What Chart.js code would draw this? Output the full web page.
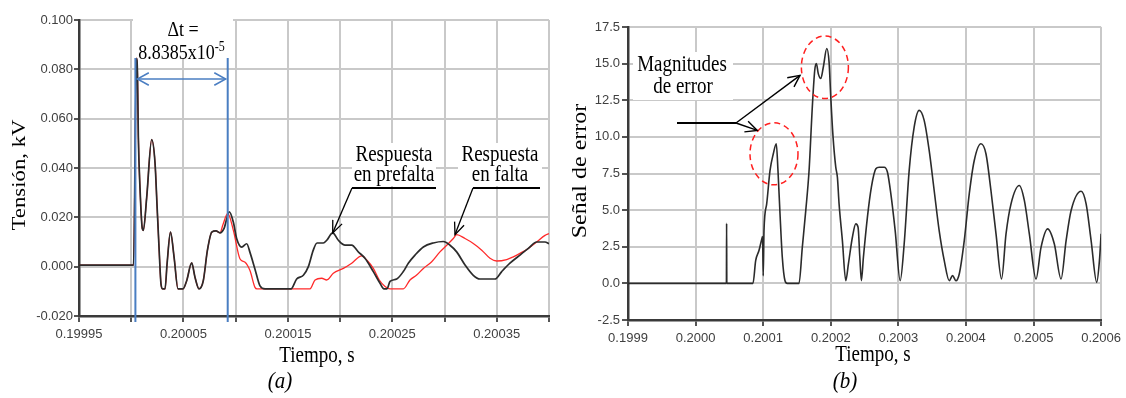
<!DOCTYPE html>
<html>
<head>
<meta charset="utf-8">
<script src="https://cdn.jsdelivr.net/npm/chart.js@4.4.1/dist/chart.umd.min.js"></script>
<style>
  html, body { margin: 0; padding: 0; background: #fff; }
  #wrap { position: relative; width: 1126px; height: 398px; overflow: hidden; }
  #wrap canvas { position: absolute; top: 0; }
  #cA { left: 0; }
  #cB { left: 560px; }
</style>
</head>
<body>
<div id="wrap">
  <canvas id="cA" width="560" height="398"></canvas>
  <canvas id="cB" width="566" height="398"></canvas>
</div>
<script>
// ---------- (a) voltage responses ----------
const timeA_prefalta = [
  0.1999500, 0.2000022, 0.2000050, 0.2000060, 0.2000068, 0.2000084, 0.2000106, 0.2000116,
  0.2000148, 0.2000196, 0.2000228, 0.2000247, 0.2000266, 0.2000285, 0.2000300, 0.2000324,
  0.2000343, 0.2000376, 0.2000410, 0.2000448, 0.2000496, 0.2000531, 0.2000579, 0.2000611,
  0.2000649, 0.2000690, 0.2000729, 0.2000771, 0.2000812, 0.2000850, 0.2000888, 0.2000939,
  0.2000978, 0.2001010, 0.2001058, 0.2001106, 0.2001137, 0.2001185, 0.2001233, 0.2001281,
  0.2001530, 0.2001584, 0.2001648, 0.2001696, 0.2001743, 0.2001779, 0.2001839, 0.2001872,
  0.2001929, 0.2001983, 0.2002047, 0.2002111, 0.2002174, 0.2002238, 0.2002318, 0.2002382,
  0.2002420, 0.2002449, 0.2002478, 0.2002542, 0.2002605, 0.2002653, 0.2002717, 0.2002797,
  0.2002892, 0.2002988, 0.2003052, 0.2003116, 0.2003196, 0.2003275, 0.2003339, 0.2003483,
  0.2003547, 0.2003626, 0.2003722, 0.2003802, 0.2003882, 0.2003962, 0.2004000
];
const kvA_prefalta = [
  0.0006, 0.0006, 0.0845, 0.0780, 0.0530, 0.0320, 0.0154, 0.0147,
  0.0280, 0.0515, 0.0420, 0.0250, 0.0080, -0.0070, -0.0090, -0.0090,
  0.0010, 0.0140, 0.0040, -0.0090, -0.0090, -0.0057, 0.0015, -0.0044,
  -0.0090, -0.0057, 0.0065, 0.0140, 0.0145, 0.0137, 0.0154, 0.0222,
  0.0180, 0.0113, 0.0079, 0.0093, 0.0058, -0.0010, -0.0078, -0.0090,
  -0.0090, -0.0050, -0.0035, 0.0000, 0.0067, 0.0096, 0.0096, 0.0107,
  0.0137, 0.0107, 0.0087, 0.0087, 0.0060, 0.0034, -0.0020, -0.0067,
  -0.0090, -0.0090, -0.0060, -0.0050, -0.0020, 0.0014, 0.0047, 0.0080,
  0.0096, 0.0102, 0.0087, 0.0060, 0.0007, -0.0035, -0.0050, -0.0050,
  -0.0020, 0.0014, 0.0047, 0.0074, 0.0100, 0.0100, 0.0093
];

const timeA_falta = [
  0.1999500, 0.2000022, 0.2000050, 0.2000060, 0.2000068, 0.2000084, 0.2000106, 0.2000116,
  0.2000148, 0.2000196, 0.2000228, 0.2000247, 0.2000266, 0.2000285, 0.2000300, 0.2000324,
  0.2000343, 0.2000376, 0.2000410, 0.2000448, 0.2000496, 0.2000531, 0.2000579, 0.2000611,
  0.2000649, 0.2000690, 0.2000729, 0.2000771, 0.2000812, 0.2000850, 0.2000878, 0.2000924,
  0.2000978, 0.2001042, 0.2001090, 0.2001137, 0.2001185, 0.2001204, 0.2001712, 0.2001760,
  0.2001824, 0.2001872, 0.2001935, 0.2002031, 0.2002111, 0.2002207, 0.2002255, 0.2002318,
  0.2002375, 0.2002430, 0.2002478, 0.2002605, 0.2002669, 0.2002733, 0.2002797, 0.2002877,
  0.2002956, 0.2003021, 0.2003084, 0.2003116, 0.2003196, 0.2003275, 0.2003356, 0.2003435,
  0.2003499, 0.2003595, 0.2003658, 0.2003722, 0.2003802, 0.2003882, 0.2003962, 0.2004000
];
const kvA_falta = [
  0.0006, 0.0006, 0.0845, 0.0780, 0.0530, 0.0320, 0.0154, 0.0147,
  0.0280, 0.0515, 0.0420, 0.0250, 0.0080, -0.0070, -0.0090, -0.0090,
  0.0010, 0.0140, 0.0040, -0.0090, -0.0090, -0.0057, 0.0015, -0.0044,
  -0.0090, -0.0057, 0.0065, 0.0140, 0.0145, 0.0137, 0.0170, 0.0216,
  0.0147, 0.0031, 0.0018, -0.0016, -0.0084, -0.0090, -0.0090, -0.0054,
  -0.0047, -0.0054, -0.0027, -0.0007, 0.0014, 0.0044, 0.0027, -0.0007,
  -0.0054, -0.0080, -0.0090, -0.0090, -0.0054, -0.0034, -0.0007, 0.0020,
  0.0060, 0.0087, 0.0114, 0.0130, 0.0114, 0.0094, 0.0067, 0.0034,
  0.0023, 0.0029, 0.0040, 0.0054, 0.0074, 0.0100, 0.0127, 0.0134
];

const xTicksA = [0.19995, 0.2, 0.20005, 0.2001, 0.20015, 0.2002, 0.20025, 0.2003, 0.20035, 0.2004];
const xTickLabelsA = ['0.19995', '', '0.20005', '', '0.20015', '', '0.20025', '', '0.20035', ''];
const yTicksA = [-0.02, 0, 0.02, 0.04, 0.06, 0.08, 0.1];
const yTickLabelsA = ['-0.020', '0.000', '0.020', '0.040', '0.060', '0.080', '0.100'];

// Two instants bracketing the travelling-wave interval
const deltaT = 8.8385e-5;
const tStart = 0.2000040;
const tEnd = tStart + deltaT;

// ---------- (b) error signal ----------
const timeB = [
  0.1999000, 0.2000456, 0.2000459, 0.2000462, 0.2000849, 0.2000889, 0.2000938, 0.2000978,
  0.2000991, 0.2001001, 0.2001012, 0.2001052, 0.2001101, 0.2001150, 0.2001194, 0.2001219,
  0.2001249, 0.2001283, 0.2001323, 0.2001357, 0.2001530, 0.2001579, 0.2001630, 0.2001679,
  0.2001727, 0.2001763, 0.2001787, 0.2001816, 0.2001852, 0.2001890, 0.2001941, 0.2001975,
  0.2002000, 0.2002034, 0.2002074, 0.2002098, 0.2002123, 0.2002172, 0.2002222, 0.2002261,
  0.2002320, 0.2002370, 0.2002404, 0.2002430, 0.2002453, 0.2002483, 0.2002542, 0.2002601,
  0.2002667, 0.2002716, 0.2002790, 0.2002839, 0.2002889, 0.2002953, 0.2003027, 0.2003086,
  0.2003160, 0.2003234, 0.2003308, 0.2003382, 0.2003456, 0.2003530, 0.2003604, 0.2003679,
  0.2003753, 0.2003802, 0.2003852, 0.2003901, 0.2003975, 0.2004049, 0.2004123, 0.2004222,
  0.2004296, 0.2004370, 0.2004445, 0.2004527, 0.2004593, 0.2004667, 0.2004790, 0.2004864,
  0.2004938, 0.2005037, 0.2005111, 0.2005209, 0.2005308, 0.2005407, 0.2005482, 0.2005556,
  0.2005704, 0.2005778, 0.2005852, 0.2005935, 0.2005975, 0.2006000
];
const errorB = [
  0, 0, 4.10, 0, 0, 1.55, 2.24, 3.00,
  3.20, 0.52, 3.60, 5.43, 7.70, 8.85, 9.53, 7.70,
  4.75, 1.78, 0.18, 0, 0, 2.46, 4.97, 7.70,
  12.04, 14.55, 15.00, 14.30, 13.98, 14.77, 16.03, 15.10,
  12.72, 9.98, 7.93, 7.25, 5.43, 2.92, 0.18, 1.33,
  3.15, 4.06, 3.83, 1.78, 0.18, 1.78, 4.51, 6.57,
  7.82, 7.93, 7.93, 7.59, 6.11, 3.60, 0.18, 2.69,
  7.70, 10.67, 11.81, 11.13, 9.08, 6.34, 3.60, 1.55,
  0.18, 0.53, 0.18, 0.64, 2.92, 6.11, 8.39, 9.53,
  8.85, 6.34, 3.38, 0.30, 3.38, 5.43, 6.68, 5.66,
  3.38, 0.30, 2.46, 3.72, 2.69, 0.30, 2.92, 4.97,
  6.29, 5.43, 2.92, 0.07, 1.55, 3.38
];

const xTicksB = [0.1999, 0.2, 0.2001, 0.2002, 0.2003, 0.2004, 0.2005, 0.2006];
const xTickLabelsB = ['0.1999', '0.2000', '0.2001', '0.2002', '0.2003', '0.2004', '0.2005', '0.2006'];
const yTicksB = [-2.5, 0, 2.5, 5, 7.5, 10, 12.5, 15, 17.5];
const yTickLabelsB = ['-2.5', '0.0', '2.5', '5.0', '7.5', '10.0', '12.5', '15.0', '17.5'];

// Peaks singled out as error magnitudes (centre of each dashed ring)
const ringTimes = [0.2001160, 0.2001913];
const ringValues = [8.84, 14.75];
// Where the two "Magnitudes de error" arrows land
const arrowTimesB = [0.2000913, 0.2001545];
const arrowValuesB = [10.44, 14.2];
// Where the response labels point in (a)
const arrowTimesA = [0.2001929, 0.2003100];
const arrowValuesA = [0.0137, 0.0130];

// ---------- shared helpers ----------
const SERIF = '"Liberation Serif", "Times New Roman", serif';
const SANS = '"Liberation Sans", Arial, sans-serif';
const STRETCH = 1.2;

function pairs(xs, ys) { return xs.map((x, i) => ({ x: x, y: ys[i] })); }

function text(ctx, str, x, y, size, align, opts) {
  opts = opts || {};
  ctx.save();
  ctx.font = (opts.italic ? 'italic ' : '') + size + 'px ' + SERIF;
  ctx.fillStyle = opts.color || '#000';
  ctx.textAlign = align || 'center';
  ctx.textBaseline = 'alphabetic';
  ctx.translate(x, y);
  ctx.scale(1, opts.stretch || STRETCH);
  ctx.fillText(str, 0, 0);
  ctx.restore();
}

function vText(ctx, str, x, y, size) {
  ctx.save();
  ctx.font = size + 'px ' + SERIF;
  ctx.fillStyle = '#000';
  ctx.textAlign = 'center';
  ctx.textBaseline = 'middle';
  ctx.translate(x, y);
  ctx.rotate(-Math.PI / 2);
  ctx.scale(STRETCH, 1);
  ctx.fillText(str, 0, 0);
  ctx.restore();
}

function line(ctx, x1, y1, x2, y2, color, w) {
  ctx.save();
  ctx.strokeStyle = color; ctx.lineWidth = w;
  ctx.beginPath(); ctx.moveTo(x1, y1); ctx.lineTo(x2, y2); ctx.stroke();
  ctx.restore();
}

function arrowHead(ctx, fx, fy, tx, ty, len, spread, color, w) {
  const a = Math.atan2(ty - fy, tx - fx);
  ctx.save();
  ctx.strokeStyle = color; ctx.lineWidth = w;
  ctx.beginPath();
  ctx.moveTo(tx - len * Math.cos(a - spread), ty - len * Math.sin(a - spread));
  ctx.lineTo(tx, ty);
  ctx.lineTo(tx - len * Math.cos(a + spread), ty - len * Math.sin(a + spread));
  ctx.stroke();
  ctx.restore();
}

function whiteBox(ctx, x, y, w, h) {
  ctx.save(); ctx.fillStyle = '#fff'; ctx.fillRect(x, y, w, h); ctx.restore();
}

function axisScales(xTicks, xLabels, yTicks, yLabels, xMin, xMax, yMin, yMax, o) {
  const grid = { color: '#c9c9c9', lineWidth: 2, tickColor: '#555', tickLength: o.tickLen };
  const border = { color: '#3a3a3a', width: 2.5 };
  const tickFont = { family: SANS, size: 13 };
  return {
    x: {
      type: 'linear', min: xMin, max: xMax,
      afterBuildTicks: s => { s.ticks = xTicks.map(v => ({ value: v })); },
      afterFit: s => { s.height = o.xAxisHeight; },
      ticks: { callback: (v, i) => xLabels[i], autoSkip: false, maxRotation: 0, minRotation: 0,
               font: tickFont, color: '#404040', padding: o.xPad },
      grid: Object.assign({}, grid, { tickLength: 6 }), border: border
    },
    y: {
      type: 'linear', min: yMin, max: yMax,
      afterBuildTicks: s => { s.ticks = yTicks.map(v => ({ value: v })); },
      afterFit: s => { s.width = o.yAxisWidth; },
      ticks: { callback: (v, i) => yLabels[i], autoSkip: false, font: tickFont, color: '#404040', padding: o.yPad },
      grid: grid, border: border
    }
  };
}

// ---------- chart (a) ----------
const annotA = {
  id: 'annotA',
  beforeDatasetsDraw(chart) {
    const ctx = chart.ctx;
    whiteBox(ctx, 133, 17, 100, 41);
    whiteBox(ctx, 352, 143, 84, 43);
    whiteBox(ctx, 458, 143, 84, 43);
  },
  afterDraw(chart) {
    const ctx = chart.ctx, xs = chart.scales.x, ys = chart.scales.y;
    // Δt bracket
    const blue = '#4a7ec2';
    const x1 = xs.getPixelForValue(tStart), x2 = xs.getPixelForValue(tEnd);
    line(ctx, x1, 58, x1, 322, blue, 2);
    line(ctx, x2, 58, x2, 322, blue, 2);
    const ay = 79;
    line(ctx, x1 + 2, ay, x2 - 2, ay, blue, 1.5);
    arrowHead(ctx, x2, ay, x1 + 2, ay, 13, 0.5, blue, 1.5);
    arrowHead(ctx, x1, ay, x2 - 2, ay, 13, 0.5, blue, 1.5);
    text(ctx, '\u0394t =', 183, 36, 18, 'center');
    // 8.8385x10^-5
    ctx.save();
    ctx.font = '18px ' + SERIF;
    const base = '8.8385x10';
    const bw = ctx.measureText(base).width;
    ctx.font = '12px ' + SERIF;
    const sw = ctx.measureText('-5').width;
    ctx.restore();
    const sx = 181.5 - (bw + sw) / 2;
    text(ctx, base, sx, 59, 18, 'left');
    text(ctx, '-5', sx + bw, 51, 12, 'left');

    // response labels with leader arrows
    text(ctx, 'Respuesta', 394, 161, 19, 'center');
    text(ctx, 'en prefalta', 394, 181, 19, 'center');
    text(ctx, 'Respuesta', 500, 161, 19, 'center');
    text(ctx, 'en falta', 500, 181, 19, 'center');
    line(ctx, 352, 188, 436, 188, '#000', 2);
    line(ctx, 473, 188, 540, 188, '#000', 2);
    const t1x = xs.getPixelForValue(arrowTimesA[0]), t1y = ys.getPixelForValue(arrowValuesA[0]);
    const t2x = xs.getPixelForValue(arrowTimesA[1]), t2y = ys.getPixelForValue(arrowValuesA[1]);
    line(ctx, 352, 188, t1x, t1y, '#000', 1.3);
    arrowHead(ctx, 352, 188, t1x, t1y, 13, 0.4, '#000', 1.3);
    line(ctx, 473, 188, t2x, t2y, '#000', 1.3);
    arrowHead(ctx, 473, 188, t2x, t2y, 13, 0.4, '#000', 1.3);

    // axis titles and caption
    vText(ctx, 'Tensi\u00f3n, kV', 20, 175, 19);
    text(ctx, 'Tiempo, s', 317, 362, 19, 'center');
    text(ctx, '(a)', 280, 388, 21, 'center', { italic: true, stretch: 1.1 });
  }
};

new Chart(document.getElementById('cA'), {
  type: 'line',
  data: {
    datasets: [
      { label: 'Respuesta en prefalta', data: pairs(timeA_prefalta, kvA_prefalta),
        borderColor: '#2b2b2b', borderWidth: 1.7, pointRadius: 0, cubicInterpolationMode: 'monotone', order: 0 },
      { label: 'Respuesta en falta', data: pairs(timeA_falta, kvA_falta),
        borderColor: '#ff2a2a', borderWidth: 1.3, pointRadius: 0, cubicInterpolationMode: 'monotone', order: 1 }
    ]
  },
  options: {
    responsive: false, animation: false, events: [],
    layout: { padding: { left: 0, top: 20, right: 11, bottom: 0 } },
    plugins: { legend: { display: false }, tooltip: { enabled: false } },
    scales: axisScales(xTicksA, xTickLabelsA, yTicksA, yTickLabelsA, 0.19995, 0.2004, -0.02, 0.1,
      { tickLen: 5, xAxisHeight: 82, yAxisWidth: 79, xPad: 5, yPad: 1 })
  },
  plugins: [annotA]
});

// ---------- chart (b) ----------
const annotB = {
  id: 'annotB',
  beforeDatasetsDraw(chart) {
    whiteBox(chart.ctx, 73, 52, 100, 48);
  },
  afterDraw(chart) {
    const ctx = chart.ctx, xs = chart.scales.x, ys = chart.scales.y;
    // dashed rings
    ctx.save();
    ctx.strokeStyle = '#ff2020'; ctx.lineWidth = 1.5; ctx.setLineDash([6, 4]);
    const radii = [[24, 31], [23.5, 31.3]];
    ringTimes.forEach((t, i) => {
      ctx.beginPath();
      ctx.ellipse(xs.getPixelForValue(t), ys.getPixelForValue(ringValues[i]), radii[i][0], radii[i][1], 0, 0, Math.PI * 2);
      ctx.stroke();
    });
    ctx.restore();

    text(ctx, 'Magnitudes', 122, 71, 19, 'center');
    text(ctx, 'de error', 123, 93, 19, 'center');
    const hx = 176, hy = 123;
    line(ctx, 117, hy, hx, hy, '#000', 2);
    arrowTimesB.forEach((t, i) => {
      const tx = xs.getPixelForValue(t), ty = ys.getPixelForValue(arrowValuesB[i]);
      line(ctx, hx, hy, tx, ty, '#000', 1.4);
      arrowHead(ctx, hx, hy, tx, ty, 13, 0.45, '#000', 1.4);
    });

    vText(ctx, 'Se\u00f1al de error', 21, 171, 20);
    text(ctx, 'Tiempo, s', 313, 361, 19, 'center');
    text(ctx, '(b)', 285, 388, 21, 'center', { italic: true, stretch: 1.1 });
  }
};

new Chart(document.getElementById('cB'), {
  type: 'line',
  data: {
    datasets: [
      { label: 'Señal de error', data: pairs(timeB, errorB),
        borderColor: '#2b2b2b', borderWidth: 1.6, pointRadius: 0, cubicInterpolationMode: 'monotone' }
    ]
  },
  options: {
    responsive: false, animation: false, events: [],
    layout: { padding: { left: 0, top: 27, right: 23, bottom: 0 } },
    plugins: { legend: { display: false }, tooltip: { enabled: false } },
    scales: axisScales(xTicksB, xTickLabelsB, yTicksB, yTickLabelsB, 0.1999, 0.2006, -2.5, 17.5,
      { tickLen: 6, xAxisHeight: 78, yAxisWidth: 68, xPad: 5, yPad: 2 })
  },
  plugins: [annotB]
});
</script>
</body>
</html>
